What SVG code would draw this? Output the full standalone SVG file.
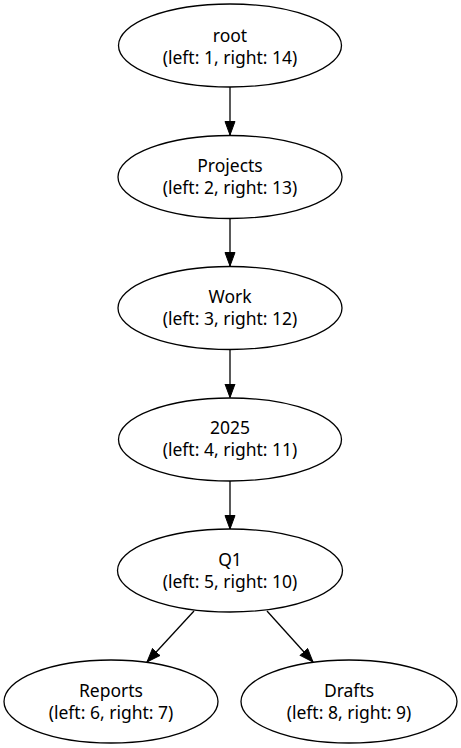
<svg xmlns="http://www.w3.org/2000/svg" width="461" height="748" viewBox="0 0 461 748">
<defs>
<style>
.node ellipse{fill:#ffffff;stroke:#000000;stroke-width:1.3}
.node text{font-family:"Noto Sans","Open Sans",sans-serif;font-size:17.5px;fill:#000000;text-anchor:middle}
.edge{stroke:#000000;stroke-width:1.3;fill:none}
</style>
<marker id="arr" markerUnits="userSpaceOnUse" markerWidth="16" markerHeight="12" refX="14" refY="5.5" orient="auto">
<path d="M0.5,0.5 L14,5.5 L0.5,10.5 z" fill="#000" stroke="#000" stroke-width="1"/>
</marker>
</defs>
<rect width="461" height="748" fill="#ffffff"/>
<g id="edges">
<line class="edge" x1="230" y1="87" x2="230" y2="135" marker-end="url(#arr)"/>
<line class="edge" x1="230" y1="218" x2="230" y2="266" marker-end="url(#arr)"/>
<line class="edge" x1="230" y1="349.5" x2="230" y2="397.5" marker-end="url(#arr)"/>
<line class="edge" x1="230" y1="481" x2="230" y2="529" marker-end="url(#arr)"/>
<line class="edge" x1="194" y1="611" x2="147" y2="662" marker-end="url(#arr)"/>
<line class="edge" x1="267" y1="611" x2="313" y2="662" marker-end="url(#arr)"/>
</g>
<g id="root" class="node">
<ellipse cx="230" cy="45.5" rx="111.5" ry="41.5"/>
<text x="230" y="42">root</text>
<text x="230" y="64">(left: 1, right: 14)</text>
</g>
<g id="projects" class="node">
<ellipse cx="230" cy="177" rx="112" ry="41.5"/>
<text x="230" y="171.5">Projects</text>
<text x="230" y="193.5">(left: 2, right: 13)</text>
</g>
<g id="work" class="node">
<ellipse cx="230" cy="308" rx="112" ry="41.5"/>
<text x="230" y="302.5">Work</text>
<text x="230" y="324.5">(left: 3, right: 12)</text>
</g>
<g id="y2025" class="node">
<ellipse cx="230" cy="439.5" rx="111.5" ry="41.5"/>
<text x="230" y="434">2025</text>
<text x="230" y="456">(left: 4, right: 11)</text>
</g>
<g id="q1" class="node">
<ellipse cx="230" cy="570.5" rx="112.5" ry="41.5"/>
<text x="230" y="565.5">Q1</text>
<text x="230" y="587.5">(left: 5, right: 10)</text>
</g>
<g id="reports" class="node">
<ellipse cx="111" cy="701.5" rx="107" ry="41.5"/>
<text x="111" y="696.5">Reports</text>
<text x="111" y="718.5">(left: 6, right: 7)</text>
</g>
<g id="drafts" class="node">
<ellipse cx="349" cy="701.5" rx="108" ry="41.5"/>
<text x="349" y="696.5">Drafts</text>
<text x="349" y="718.5">(left: 8, right: 9)</text>
</g>
</svg>
